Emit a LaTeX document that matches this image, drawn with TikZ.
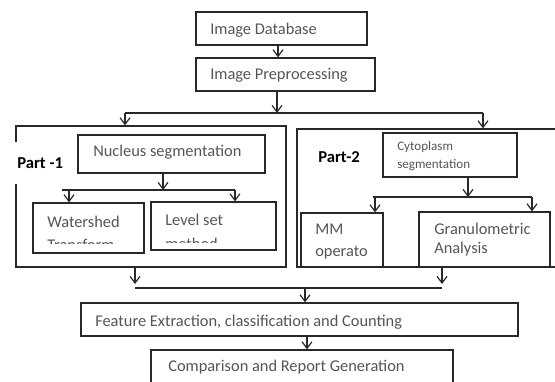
\documentclass[tikz,border=0pt]{standalone}
\usepackage{fontspec}
\setmainfont{Carlito}
\usetikzlibrary{arrows.meta,fit,calc}
\definecolor{edge}{RGB}{40,40,40}
\definecolor{txt}{RGB}{85,85,85}
\tikzset{
  box/.style={draw=edge, line width=0.9pt, inner sep=0pt},
  lbl/.style={anchor=west, inner sep=0pt, text=txt, font=\fontsize{12.3}{14}\selectfont},
  small/.style={anchor=west, inner sep=0pt, text=txt, font=\fontsize{9.8}{11}\selectfont},
  part/.style={anchor=west, font=\fontsize{12.5}{14}\selectfont\bfseries, text=black},
  wire/.style={draw=edge, line width=0.9pt},
  arr/.style={wire, -{Straight Barb[length=5pt,width=7.5pt,line width=0.9pt]}}
}
\begin{document}
\begin{tikzpicture}[x=0.75pt,y=-0.75pt]
\useasboundingbox (0,0) rectangle (555,381);

% top chain
\node[box, fit={(196,12) (367,45)}] (db) {};
\node[lbl] (dbt) at (210,30) {Image Database};
\node[box, fit={(196,58) (375,91)}] (prep) {};
\node[lbl] (prept) at (210,75) {Image Preprocessing};

% two processing parts
\node[box, fit={(16,126) (286,267)}] (p1) {};
\node[box, fit={(297,129) (557,267)}] (p2) {};
\node[part, fill=white, minimum height=32pt, inner xsep=1.5pt] (p1t) at (15,163) {Part -1};
\node[part, inner sep=0pt] (p2t) at (318,157) {Part-2};

% part 1 contents
\node[box, fit={(78,135) (265,173)}] (nuc) {};
\node[lbl] (nuct) at (93,152) {Nucleus segmentation};
\node[box, fit={(33,203) (144,253)}] (ws) {};
\node[box, fit={(151,202) (276,250)}] (ls) {};
\begin{scope}
  \clip (33,203) rectangle (144,243);
  \node[lbl] (wst1) at (47,222) {Watershed};
  \node[lbl] (wst2) at (47,245) {Transform};
\end{scope}
\begin{scope}
  \clip (151,202) rectangle (276,242);
  \node[lbl] (lst1) at (165,220) {Level set};
  \node[lbl] (lst2) at (165,244) {method};
\end{scope}

% part 2 contents
\node[box, fit={(383,133) (517,177)}] (cyto) {};
\node[small] (cytot1) at (397,147) {Cytoplasm};
\node[small] (cytot2) at (397,165) {segmentation};
\node[box, fit={(301,213) (383,267)}] (mm) {};
\node[lbl] (mmt1) at (315,229) {MM};
\node[lbl] (mmt2) at (315,253) {operato};
\node[box, fit={(419,212) (550,267)}] (gran) {};
\node[lbl] (grant1) at (434,229) {Granulometric};
\node[lbl] (grant2) at (434,249) {Analysis};

% bottom chain
\node[box, fit={(81,303) (518,336)}] (feat) {};
\node[lbl] (featt) at (95,322) {Feature Extraction, classification and Counting};
\node[box, fit={(151,350) (453,400)}] (comp) {};
\node[lbl] (compt) at (168,367) {Comparison and Report Generation};

% junctions
\coordinate (jtop) at (277,113);
\coordinate (jl) at (125,113);
\coordinate (jr) at (483,113);
\coordinate (jn) at (163,190);
\coordinate (jnl) at (62,190);
\coordinate (jnr) at (235,190);
\coordinate (jc) at (468,197);
\coordinate (jcl) at (373,197);
\coordinate (jcr) at (532,197);
\coordinate (jb) at (305,288);
\coordinate (jbl) at (135,288);
\coordinate (jbr) at (442,288);

% connectors
\draw[arr] (278,0 |- db.south) -- (278,0 |- prep.north);
\draw[arr] (jtop |- prep.south) -- (jtop);
\draw[wire] (jl) -- (jr);
\draw[arr] (jl) -- (jl |- p1.north);
\draw[arr] (jr) -- (jr |- p2.north);

\draw[arr] (jn |- nuc.south) -- (jn);
\draw[wire] (jnl) -- (jnr);
\draw[arr] (69,190) -- (69,0 |- ws.north);
\draw[arr] (jnr) -- (jnr |- ls.north);

\draw[arr] (jc |- cyto.south) -- (jc);
\draw[wire] (jcl) -- (jcr);
\draw[arr] (375,197) -- (375,0 |- mm.north);
\draw[arr] (jcr) -- (jcr |- gran.north);

\draw[arr] (jbl |- p1.south) -- ($(jbl)+(0,-4)$);
\draw[arr] (jbr |- p2.south) -- ($(jbr)+(0,-4)$);
\draw[wire] (jbl) -- (jbr);
\draw[arr] (jb) -- (jb |- feat.north);
\draw[arr] (307,0 |- feat.south) -- (307,0 |- comp.north);
\end{tikzpicture}
\end{document}
